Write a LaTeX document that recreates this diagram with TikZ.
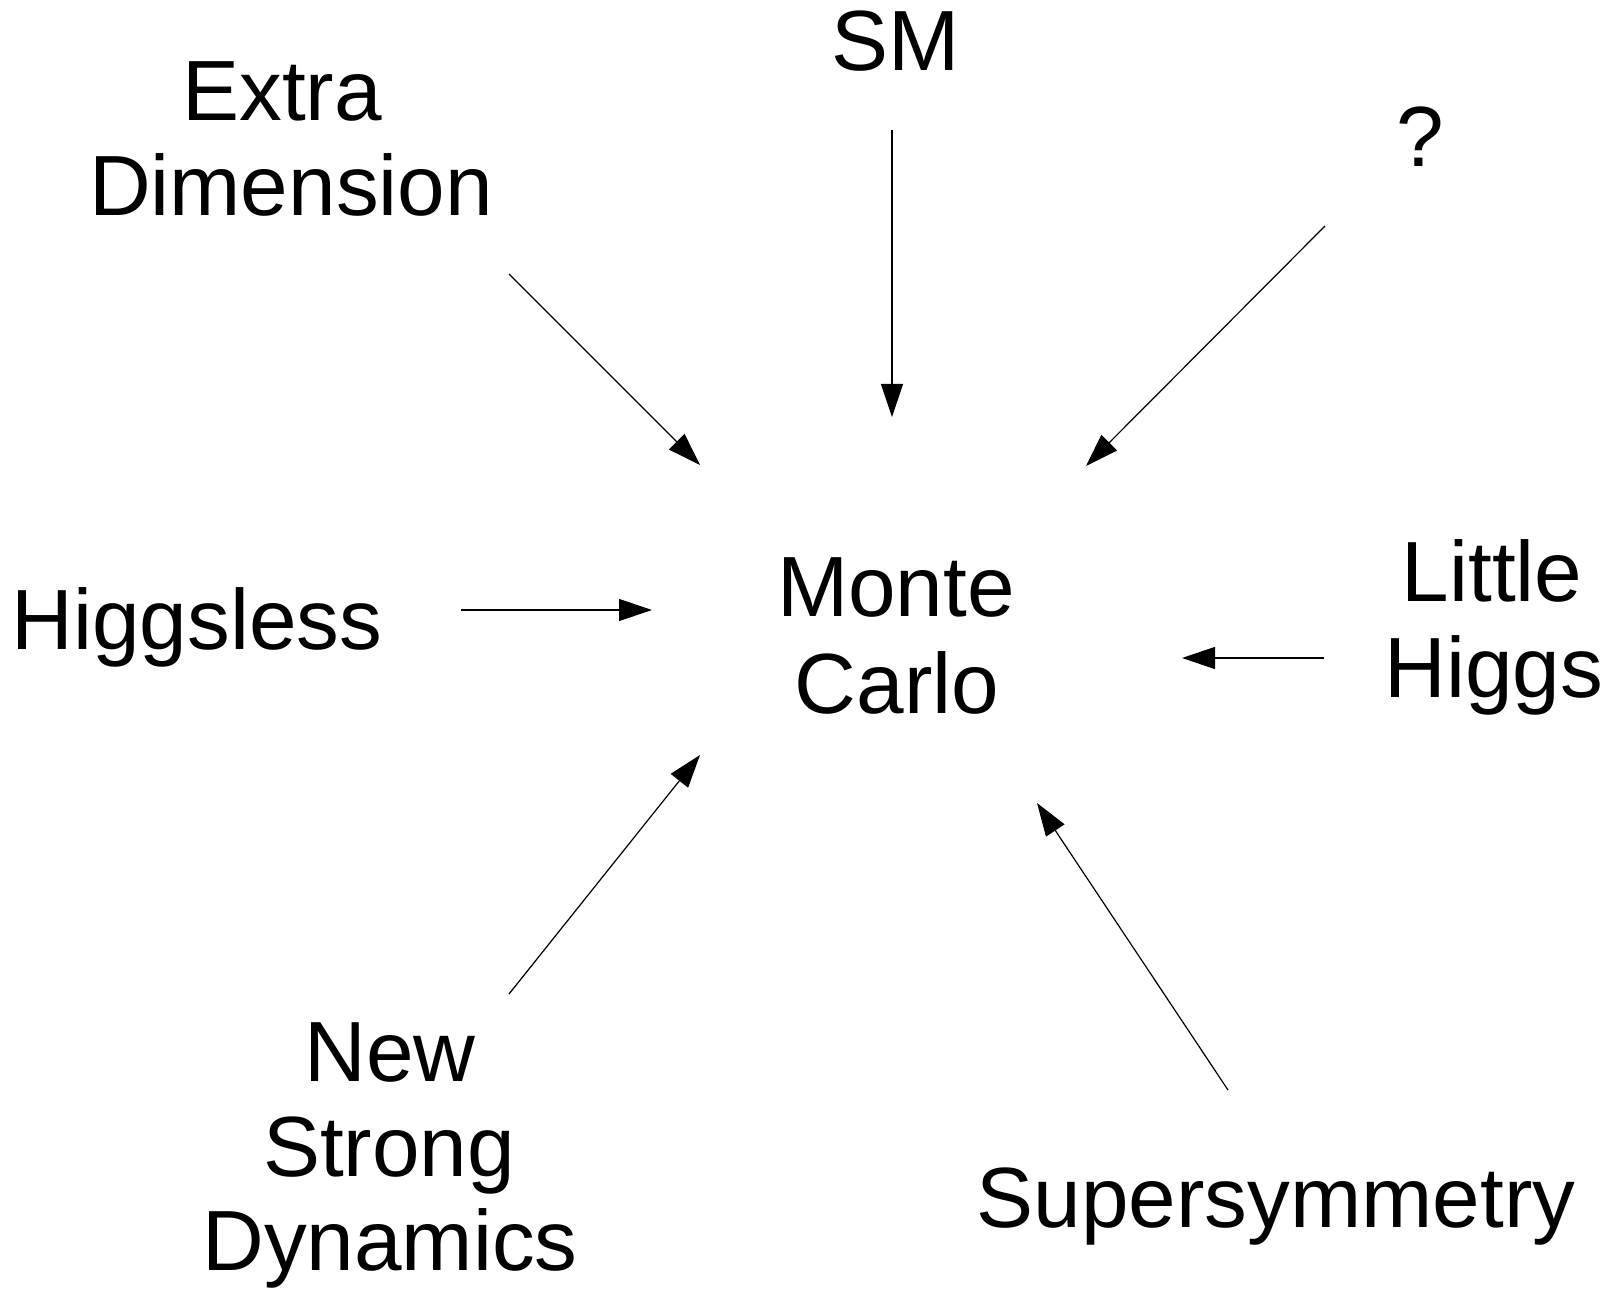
\documentclass[tikz,border=0pt]{standalone}
\usepackage{fontspec}
\setmainfont{Liberation Sans}
\usetikzlibrary{arrows.meta}
\begin{document}
\begin{tikzpicture}[x=1pt,y=-1pt,
  lbl/.style={anchor=base,inner sep=0pt,font=\fontsize{85.5}{96}\selectfont},
  conn/.style={line width=1.2pt,-{Triangle[length=33pt,width=22pt]}}]
\useasboundingbox (0,0) rectangle (1610,1289);
% labels
\node[lbl] (ed1) at (282,121) {Extra};
\node[lbl] (ed2) at (291,216) {Dimension};
\node[lbl] (sm) at (896,71) {SM};
\node[lbl] (q) at (1420,167) {?};
\node[lbl] (hl) at (197,649) {Higgsless};
\node[lbl] (mc1) at (896,616) {Monte};
\node[lbl] (mc2) at (897,713) {Carlo};
\node[lbl] (lh1) at (1492,601) {Little};
\node[lbl] (lh2) at (1494,697) {Higgs};
\node[lbl] (ns1) at (390,1081) {New};
\node[lbl] (ns2) at (389,1176) {Strong};
\node[lbl] (ns3) at (390,1270) {Dynamics};
\node[lbl] (susy) at (1276,1227) {Supersymmetry};
% connector end points
\coordinate (edA) at (509,274);  \coordinate (edB) at (700,465);
\coordinate (smA) at (892,130);  \coordinate (smB) at (892,417);
\coordinate (qA) at (1325,226);  \coordinate (qB) at (1086,466);
\coordinate (hlA) at (461,610);  \coordinate (hlB) at (652,610);
\coordinate (lhA) at (1324,658); \coordinate (lhB) at (1182,658);
\coordinate (nsA) at (509,994);  \coordinate (nsB) at (700,755);
\coordinate (suA) at (1228,1090);\coordinate (suB) at (1037,803);
% connectors
\draw[conn] (edA) -- (edB);
\draw[conn] (smA) -- (smB);
\draw[conn] (qA) -- (qB);
\draw[conn] (hlA) -- (hlB);
\draw[conn] (lhA) -- (lhB);
\draw[conn] (nsA) -- (nsB);
\draw[conn] (suA) -- (suB);
\end{tikzpicture}
\end{document}
